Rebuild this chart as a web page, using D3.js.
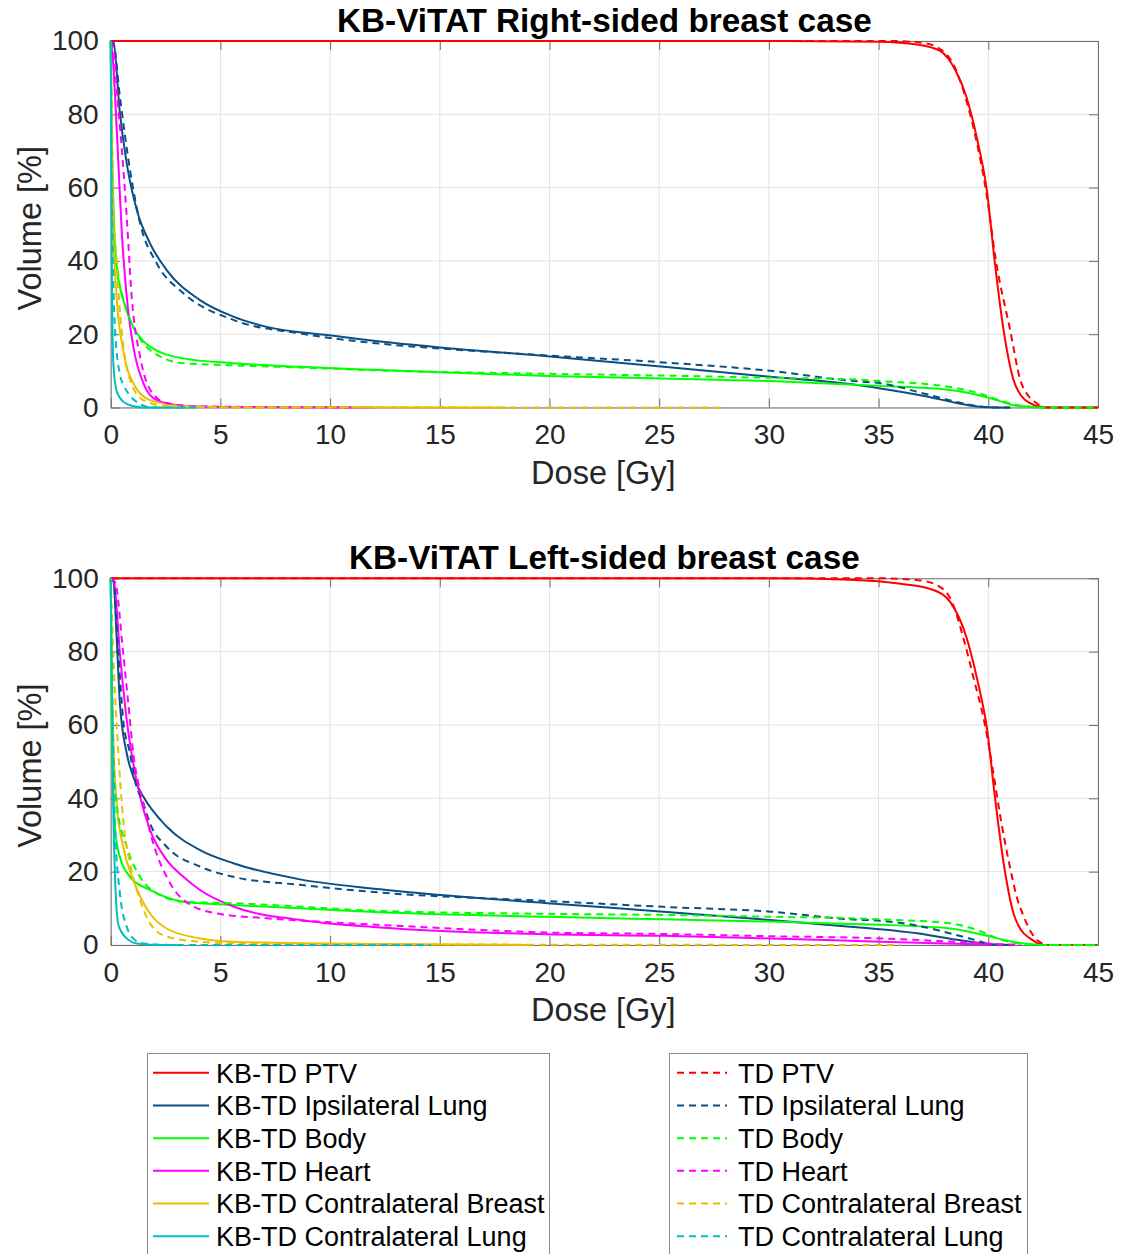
<!DOCTYPE html>
<html><head><meta charset="utf-8">
<script src="https://cdn.jsdelivr.net/npm/d3@7"></script>
<style>body{margin:0;background:#fff} svg{display:block;font-family:"Liberation Sans",Arial,Helvetica,sans-serif}</style>
</head><body><svg id="c" width="1121" height="1254"></svg>
<script>
// ---------- data ----------
const doseTicks = [0,5,10,15,20,25,30,35,40,45];
const volumeTicks = [0,20,40,60,80,100];
const panelTitles = ["KB-ViTAT Right-sided breast case", "KB-ViTAT Left-sided breast case"];
const structures = ["PTV","Ipsilateral Lung","Body","Heart","Contralateral Breast","Contralateral Lung"];
const structureColors = ["#ff0000","#0b4f85","#00ff00","#ff00ff","#e8c000","#00bfbf"];
const kbLabels = structures.map(s => "KB-TD " + s);
const tdLabels = structures.map(s => "TD " + s);

// Right-sided case: [dose Gy, volume %]
const right_KB_PTV = [[0,100],[30,100],[35,99.8],[36.8,99.0],[37.8,97.3],[38.5,92],[39.0,84.8],[39.5,73],[39.94,59],[40.3,39.4],[40.7,21],[41.15,7.5],[41.5,3.2],[41.9,1.2],[42.4,0.2],[43,0],[45,0]];
const right_TD_PTV = [[0,100],[35.5,100],[37.0,99.5],[37.9,97.4],[38.5,92.5],[38.95,84.8],[39.45,73],[39.9,59],[40.35,40],[41.0,21],[41.46,7.5],[41.85,3],[42.2,1.2],[42.5,0],[45,0]];
const right_KB_Lung = [[0,100],[0.12,99.8],[0.42,80.3],[0.73,66.6],[1.19,53.9],[1.79,44.8],[2.55,37.5],[4.07,29.3],[5.59,24.8],[7.11,22.0],[10.15,19.6],[12.3,18.0],[15,16.4],[19.9,14.0],[25.2,11.1],[30.06,8.4],[33.7,6.4],[35.08,5.2],[37.2,3.0],[38.5,1.3],[39.5,0.3],[40.5,0],[41,0]];
const right_TD_Lung = [[0,100],[0.12,99.5],[0.42,84.8],[0.88,64.8],[1.34,50.3],[2.1,39.3],[3.31,31.2],[5.59,23.9],[8.63,20.2],[12.3,17.4],[15,16.1],[19.9,14.2],[25.2,12.3],[30.06,10.0],[33.7,7.3],[35.08,6.6],[37.2,3.6],[38.5,1.6],[39.5,0.4],[40.2,0],[41,0]];
const right_KB_Body = [[0,100],[0.05,75],[0.15,50],[0.3,37],[0.5,31],[0.75,26],[1.03,22],[1.79,16.6],[3.31,13.4],[5.59,12.1],[8.63,11.1],[12.3,10.2],[19.9,8.6],[25.2,7.9],[30.06,7.2],[33.7,6.3],[35.08,5.9],[38.27,4.8],[39.8,3.0],[40.5,1.8],[41.1,0.7],[42,0.1],[42.5,0],[45,0]];
const right_TD_Body = [[0,100],[0.05,72],[0.15,50],[0.35,36],[0.6,29],[1.03,22],[1.79,15.7],[3.31,12.1],[5.59,11.5],[8.63,10.9],[12.3,10.1],[19.9,9.2],[25.2,8.7],[30.06,8.1],[33.7,7.7],[35.08,7.2],[38.27,5.6],[39.5,4.0],[40.5,2.0],[41.3,0.7],[42,0.2],[42.5,0],[45,0]];
const right_KB_Heart = [[0,100],[0.1,95],[0.2,84.8],[0.35,66.6],[0.5,48.4],[0.73,30.2],[1.03,16.6],[1.49,6.6],[2.1,2],[3.3,0.5],[5,0.15],[10,0.05],[12,0]];
const right_TD_Heart = [[0,100],[0.15,97],[0.3,84.8],[0.5,71],[0.73,52],[0.96,30],[1.34,13.9],[1.79,4.9],[2.55,1.2],[4,0.3],[8,0.1],[11,0]];
const right_KB_Breast = [[0,100],[0.05,70],[0.12,48.4],[0.27,30.2],[0.57,15.7],[1.03,6.6],[1.79,2],[3.3,0.4],[6,0.1],[18,0]];
const right_TD_Breast = [[0,100],[0.05,80],[0.12,57.5],[0.27,39.3],[0.5,21],[0.88,7.5],[1.49,2],[2.5,0.4],[5,0.1],[27.8,0]];
const right_KB_CLLung = [[0,100],[0.02,75],[0.05,39.3],[0.12,12],[0.27,4.5],[0.57,1.6],[1.0,0.4],[1.5,0],[3.5,0]];
const right_TD_CLLung = [[0,100],[0.05,60],[0.2,21],[0.42,9],[0.6,6],[0.88,3.2],[1.19,1.5],[1.6,0.3],[2.2,0],[4,0]];

// Left-sided case
const left_KB_PTV = [[0,100],[30,100],[33.7,99.6],[36,98.5],[37.5,96.8],[38.27,93.5],[39.0,84],[39.5,72.3],[39.95,58.6],[40.3,40.4],[40.7,22.3],[41.15,8.6],[41.5,4],[41.9,1.8],[42.5,0],[45,0]];
const left_TD_PTV = [[0,100],[35,100],[36.8,99.5],[37.7,98],[38.35,93.5],[38.85,84],[39.35,72.3],[39.85,60],[40.2,48],[40.55,35],[40.95,22.3],[41.35,12],[41.6,8],[42.0,3],[42.3,1],[42.7,0],[45,0]];
const left_KB_Lung = [[0,100],[0.12,99.5],[0.27,84],[0.42,65.9],[0.73,52.3],[1.03,45.9],[1.49,40.4],[2.55,32.3],[4.07,25.9],[5.59,22.3],[8.63,17.9],[12.28,15.2],[19.9,11.4],[25.2,9.1],[30.06,6.8],[33.7,5.0],[35.08,4.3],[36.75,3.2],[38.5,1.5],[39.5,0.6],[40.2,0],[41,0]];
const left_TD_Lung = [[0,100],[0.12,99.5],[0.35,79.5],[0.57,61.4],[0.88,52.3],[1.1,45],[1.49,38.6],[1.79,33.2],[2.55,26.8],[4.07,21.4],[5.59,18.6],[8.63,16.4],[12.28,14.3],[19.9,12.0],[25.2,10.4],[30.06,9.1],[33.7,7.0],[35.08,6.6],[36.75,5.3],[38.5,2.8],[39.5,1.2],[40.1,0.2],[41,0]];
const left_KB_Body = [[0,100],[0.05,60],[0.12,42],[0.2,31.4],[0.42,24],[0.88,18.6],[1.79,15],[3.31,11.8],[5.59,10.9],[8.63,10.0],[12.28,8.9],[19.9,7.7],[25.2,7.0],[30.06,6.4],[33.7,5.7],[35.08,5.5],[38.27,4.5],[39.8,2.7],[41.1,0.9],[42,0.2],[42.5,0],[45,0]];
const left_TD_Body = [[0,100],[0.05,70],[0.12,50],[0.27,38.6],[0.73,26.8],[1.34,18.6],[2.25,13.6],[3.31,11.8],[5.59,11.4],[12.28,9.3],[19.9,8.5],[25.2,8.2],[30.06,7.7],[33.7,7.3],[35.08,7.0],[38.27,5.9],[39.5,4.1],[40.6,1.4],[41.5,0.3],[42,0],[45,0]];
const left_KB_Heart = [[0,100],[0.15,99],[0.42,79.5],[0.73,61.4],[1.03,49.5],[1.34,40.4],[1.79,31.4],[2.55,23.2],[3.31,18.6],[4.07,15],[5.59,10.5],[8.63,6.8],[12.28,4.8],[19.9,2.9],[25.2,2.5],[30.06,1.8],[35.08,0.9],[38,0.4],[40,0.15],[41,0]];
const left_TD_Heart = [[0,100],[0.2,99],[0.57,79.5],[0.8,66],[1.03,52.3],[1.49,38.6],[1.94,27.7],[2.55,18.6],[3.31,12.3],[4.83,8.6],[7.11,7.3],[10,6.2],[13.2,5.2],[19.9,3.4],[25.2,3.0],[30.06,2.4],[35.08,1.8],[38,1.0],[40,0.4],[41.5,0]];
const left_KB_Breast = [[0,100],[0.05,75],[0.12,56.8],[0.27,38.6],[0.57,26.8],[1.03,17.7],[1.79,8.6],[2.55,4.5],[4.07,1.8],[5.59,0.9],[8.63,0.5],[12,0.3],[19,0]];
const left_TD_Breast = [[0,100],[0.12,79],[0.35,52.3],[0.57,34.1],[0.88,22.3],[1.34,12.3],[1.79,5.9],[2.55,2.3],[4.07,0.9],[6,0.4],[10,0.2],[36,0]];
const left_KB_CLLung = [[0,100],[0.05,72.7],[0.12,36.4],[0.2,18.2],[0.35,5.5],[0.73,1.8],[1.2,0.4],[2,0],[3,0]];
const left_TD_CLLung = [[0,100],[0.08,65],[0.2,31.8],[0.42,14.1],[0.73,5],[1.03,1.8],[1.5,0.4],[3,0],[14.6,0]];

const rightKB = [right_KB_PTV,right_KB_Lung,right_KB_Body,right_KB_Heart,right_KB_Breast,right_KB_CLLung];
const rightTD = [right_TD_PTV,right_TD_Lung,right_TD_Body,right_TD_Heart,right_TD_Breast,right_TD_CLLung];
const leftKB = [left_KB_PTV,left_KB_Lung,left_KB_Body,left_KB_Heart,left_KB_Breast,left_KB_CLLung];
const leftTD = [left_TD_PTV,left_TD_Lung,left_TD_Body,left_TD_Heart,left_TD_Breast,left_TD_CLLung];

// ---------- drawing ----------
const svg = d3.select("#c");
const FONT_TICK = 28, FONT_LABEL = 32.5, FONT_TITLE = 33.3, FONT_LEG = 27;
const DASH = "7,5";
const axisCol = "#262626";

function drawPanel(top, bottom, title, kb, td) {
  const left = 110.7, right = 1098;
  const x = d3.scaleLinear().domain([0,45]).range([left,right]);
  const y = d3.scaleLinear().domain([0,100]).range([bottom,top]);
  const g = svg.append("g");

  // grid
  g.append("g").selectAll("line").data(doseTicks).join("line")
    .attr("x1", d=>x(d)).attr("x2", d=>x(d)).attr("y1", top).attr("y2", bottom)
    .attr("stroke", "#e3e3e3").attr("stroke-width", 1);
  g.append("g").selectAll("line").data(volumeTicks).join("line")
    .attr("y1", d=>y(d)).attr("y2", d=>y(d)).attr("x1", left).attr("x2", right)
    .attr("stroke", "#e3e3e3").attr("stroke-width", 1);

  // axes (ticks inside)
  const styleAxis = sel => {
    sel.select(".domain").attr("stroke", "#6e6e6e").attr("stroke-width", 1);
    sel.selectAll(".tick line").attr("stroke", "#6e6e6e").attr("stroke-width", 1);
    sel.selectAll("text").attr("fill", axisCol).style("font-size", FONT_TICK+"px")
      .style("font-family", '"Liberation Sans",Arial,sans-serif');
  };
  g.append("g").attr("transform", `translate(0,${bottom})`)
    .call(d3.axisBottom(x).tickValues(doseTicks).tickSizeInner(-9).tickSizeOuter(0).tickPadding(17).tickFormat(d3.format("d")))
    .call(styleAxis);
  g.append("g").attr("transform", `translate(0,${top})`)
    .call(d3.axisTop(x).tickValues(doseTicks).tickSizeInner(-9).tickSizeOuter(0).tickFormat(""))
    .call(styleAxis);
  g.append("g").attr("transform", `translate(${left},0)`)
    .call(d3.axisLeft(y).tickValues(volumeTicks).tickSizeInner(-9).tickSizeOuter(0).tickPadding(12).tickFormat(d3.format("d")))
    .call(styleAxis);
  g.append("g").attr("transform", `translate(${right},0)`)
    .call(d3.axisRight(y).tickValues(volumeTicks).tickSizeInner(-9).tickSizeOuter(0).tickFormat(""))
    .call(styleAxis);

  // curves
  const line = d3.line().x(d=>x(d[0])).y(d=>y(d[1])).curve(d3.curveMonotoneX);
  const lg = g.append("g").attr("fill","none").attr("stroke-width",2).attr("stroke-linejoin","round");
  kb.forEach((s,i) => lg.append("path").attr("d", line(s)).attr("stroke", structureColors[i]));
  td.forEach((s,i) => lg.append("path").attr("d", line(s)).attr("stroke", structureColors[i]).attr("stroke-dasharray", DASH));

  // labels
  const cx = (left+right)/2;
  g.append("text").attr("x", cx).attr("y", top-9.5).attr("text-anchor","middle")
    .attr("font-weight","bold").attr("font-size", FONT_TITLE).attr("fill","#000").text(title);
  g.append("text").attr("x", cx-1).attr("y", bottom+76).attr("text-anchor","middle")
    .attr("font-size", FONT_LABEL).attr("fill", axisCol).text("Dose [Gy]");
  g.append("text").attr("transform", `translate(41,${(top+bottom)/2+4}) rotate(-90)`)
    .attr("text-anchor","middle").attr("font-size", FONT_LABEL).attr("fill", axisCol).text("Volume [%]");
}

drawPanel(41, 407.5, panelTitles[0], rightKB, rightTD);
drawPanel(578.3, 945, panelTitles[1], leftKB, leftTD);

// ---------- legends ----------
function drawLegend(bx, bw, labels, dashed, lineX1, lineX2, textX) {
  const g = svg.append("g");
  g.append("rect").attr("x", bx+0.5).attr("y", 1053.5).attr("width", bw).attr("height", 230)
    .attr("fill","#fff").attr("stroke","#8c8c8c").attr("stroke-width",1);
  const rowY = d3.scaleLinear().domain([0,5]).range([1072.7,1236.3]);
  labels.forEach((lab,i) => {
    const yy = rowY(i);
    const l = g.append("line").attr("x1", lineX1).attr("x2", lineX2).attr("y1", yy).attr("y2", yy)
      .attr("stroke", structureColors[i]).attr("stroke-width", 2);
    if (dashed) l.attr("stroke-dasharray", DASH);
    g.append("text").attr("x", textX).attr("y", yy+9.8).attr("font-size", FONT_LEG).attr("fill","#000").text(lab);
  });
}
drawLegend(147, 402, kbLabels, false, 153, 209, 216);
drawLegend(669, 358, tdLabels, true, 677, 727, 738);
</script>
</body></html>
